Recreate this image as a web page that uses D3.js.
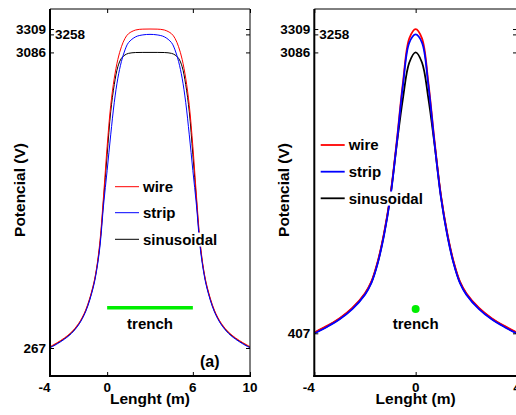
<!DOCTYPE html>
<html><head><meta charset="utf-8">
<script src="https://cdn.jsdelivr.net/npm/d3@7"></script>
<style>
html,body{margin:0;padding:0;background:#fff;}
svg text{font-family:Arial,"Liberation Sans",sans-serif;font-weight:bold;fill:#000;}
</style></head>
<body><svg id="c" width="516" height="415"></svg>
<script>
// ---- data ----
const seriesNames = ["wire", "strip", "sinusoidal"];
const seriesColors = ["#ff0000", "#0000ff", "#000000"];

// panel (a): trench 0..6 m
const leftX = [-4,-3.5,-3,-2.5,-2,-1.5,-1,-0.75,-0.5,-0.25,0,0.25,0.5,0.75,1,1.25,1.5,2,2.5,3,
               3.5,4,4.5,4.75,5,5.25,5.5,5.75,6,6.25,6.5,6.75,7,7.5,8,8.5,9,9.5,10];
const leftWire = [280,318,362,418,500,630,850,1020,1290,1720,2190,2580,2840,3020,3140,3220,3265,3300,3308,3309,
                  3308,3300,3265,3220,3140,3020,2840,2580,2190,1720,1290,1020,850,630,500,418,362,318,280];
const leftStrip = [268,306,350,405,487,615,830,995,1240,1630,1960,2300,2610,2840,3000,3110,3180,3235,3253,3258,
                   3253,3235,3180,3110,3000,2840,2610,2300,1960,1630,1240,995,830,615,487,405,350,306,268];
const leftSinus = [274,312,356,411,493,622,840,1008,1265,1680,2110,2520,2780,2950,3030,3062,3077,3085,3086,3086,
                   3086,3085,3077,3062,3030,2950,2780,2520,2110,1680,1265,1008,840,622,493,411,356,312,274];
const leftXTicks = [-4, 0, 6, 10];
const leftYTicks = [267, 3086, 3258, 3309];
const leftYTickLabels = ["267", "3086", "", "3309"];

// panel (b): point trench at 0 m
const rightX = [-4,-3.5,-3,-2.5,-2,-1.75,-1.5,-1.25,-1,-0.75,-0.5,-0.25,0,
                0.25,0.5,0.75,1,1.25,1.5,1.75,2,2.5,3,3.5,4];
const rightWire = [415,478,552,650,790,900,1090,1360,1720,2230,2800,3220,3309,
                   3220,2800,2230,1720,1360,1090,900,790,650,552,478,415];
const rightStrip = [405,468,541,638,776,885,1072,1340,1700,2210,2775,3180,3258,
                    3180,2775,2210,1700,1340,1072,885,776,638,541,468,405];
const rightSinus = [410,473,546,644,783,892,1080,1350,1710,2200,2650,2990,3086,
                    2990,2650,2200,1710,1350,1080,892,783,644,546,473,410];
const rightXTicks = [-4, 0, 4];
const rightYTicks = [407, 3086, 3258, 3309];
const rightYTickLabels = ["407", "3086", "", "3309"];

const peakNote = "3258";
const yLabel = "Potencial (V)";
const xLabel = "Lenght (m)";
const trenchLabel = "trench";

// ---- drawing ----
const svg = d3.select("#c");

function panel(opt) {
  const x = d3.scaleLinear().domain(opt.xDomain).range(opt.xRange);
  const y = d3.scaleLinear().domain([0, 3500]).range([376, 9]);
  const g = svg.append("g");
  const clipId = "clip" + opt.id;
  svg.append("clipPath").attr("id", clipId).append("rect")
    .attr("x", opt.xRange[0]).attr("y", 9).attr("width", opt.xRange[1] - opt.xRange[0]).attr("height", 367);
  const plot = g.append("g").attr("clip-path", `url(#${clipId})`);

  // trench marker
  if (opt.trenchLine) {
    plot.append("line").attr("x1", x(opt.trenchLine[0])).attr("x2", x(opt.trenchLine[1]))
      .attr("y1", y(opt.trenchY)).attr("y2", y(opt.trenchY))
      .attr("stroke", "#00ee00").attr("stroke-width", 3.5);
  } else {
    plot.append("circle").attr("cx", x(opt.trenchPoint)).attr("cy", y(opt.trenchY)).attr("r", 4)
      .attr("fill", "#00ee00");
  }
  g.append("text").attr("x", x(opt.trenchTextX)).attr("y", 329).attr("text-anchor", "middle")
    .attr("font-size", 15).text(trenchLabel);

  const line = d3.line().x((d, i) => x(opt.xs[i])).y(d => y(d)).curve(d3.curveCatmullRom.alpha(0.5));
  // draw order: sinusoidal, wire, strip
  [2, 0, 1].forEach(k => {
    plot.append("path").datum(opt.ys[k]).attr("d", line).attr("fill", "none")
      .attr("stroke", seriesColors[k]).attr("stroke-width", opt.lw);
  });

  // axes
  const xAxisB = d3.axisBottom(x).tickValues(opt.xTicks).tickSize(-4).tickFormat("");
  const xAxisT = d3.axisTop(x).tickValues(opt.xTicks).tickSize(-4).tickFormat("");
  const yAxisL = d3.axisLeft(y).tickValues(opt.yTicks).tickSize(-4).tickFormat("");
  const yAxisR = d3.axisRight(y).tickValues(opt.yTicks).tickSize(-4).tickFormat("");
  const axes = [
    g.append("g").attr("transform", "translate(0,376)").call(xAxisB),
    g.append("g").attr("transform", "translate(0,9)").call(xAxisT),
    g.append("g").attr("transform", `translate(${opt.xRange[0]},0)`).call(yAxisL),
    g.append("g").attr("transform", `translate(${opt.xRange[1]},0)`).call(yAxisR)
  ];
  axes.forEach(a => {
    a.select(".domain").attr("stroke", "#000").attr("stroke-width", 2);
    a.selectAll(".tick line").attr("stroke", "#000").attr("stroke-width", 1);
  });
  axes[0].select(".domain").attr("d", `M${opt.xRange[0] - 1},0H${opt.xRange[1] + 1}`);
  axes[1].select(".domain").attr("d", `M${opt.xRange[0]},0H${opt.xRange[1]}`).attr("stroke-width", 1);
  axes[2].select(".domain").attr("d", `M0,9V377`);
  axes[3].select(".domain").attr("d", `M0,9V376`).attr("stroke-width", 1);

  // tick labels
  opt.xTicks.forEach(t => {
    g.append("text").attr("x", x(t) + (t < 0 ? 0.5 : 0)).attr("y", 392)
      .attr("text-anchor", t < 0 ? "end" : "middle").attr("font-size", 13.5).text(t);
  });
  opt.yTicks.forEach((t, i) => {
    if (!opt.yLabels[i]) return;
    g.append("text").attr("x", opt.xRange[0] - 4).attr("y", y(t)).attr("dy", "0.35em")
      .attr("text-anchor", "end").attr("font-size", 13.5).text(opt.yLabels[i]);
  });
  g.append("text").attr("x", opt.xRange[0] + 5).attr("y", 34).attr("dy", "0.35em")
    .attr("font-size", 13.5).text(peakNote);

  // axis titles
  g.append("text").attr("x", x(opt.xLabelAt)).attr("y", 404).attr("text-anchor", "middle")
    .attr("font-size", 15.5).text(xLabel);
  g.append("text").attr("transform", `translate(${opt.yLabelX},190) rotate(-90)`)
    .attr("text-anchor", "middle").attr("font-size", 15.5).text(yLabel);

  // legend
  seriesNames.forEach((n, k) => {
    const ly = opt.legY[k];
    g.append("line").attr("x1", opt.legX).attr("x2", opt.legX + 24).attr("y1", ly).attr("y2", ly)
      .attr("stroke", seriesColors[k]).attr("stroke-width", opt.lw);
    const t = g.append("text").attr("x", opt.legX + 28).attr("y", ly).attr("dy", "0.35em")
      .attr("font-size", 15).text(n);
    const bb = t.node().getBBox();
    g.insert("rect", function () { return t.node(); })
      .attr("x", bb.x).attr("y", bb.y + 2).attr("width", bb.width).attr("height", bb.height - 3)
      .attr("fill", "#fff");
  });

  if (opt.note) {
    g.append("text").attr("x", opt.note[0]).attr("y", opt.note[1]).attr("font-size", 16).text("(a)");
  }
}

panel({
  id: "L", xDomain: [-4, 10], xRange: [50, 250], xs: leftX, ys: [leftWire, leftStrip, leftSinus],
  xTicks: leftXTicks, yTicks: leftYTicks, yLabels: leftYTickLabels, lw: 1,
  trenchLine: [0, 6], trenchY: 650, trenchTextX: 3, xLabelAt: 3, yLabelX: 25,
  legX: 115, legY: [186.7, 212.7, 239.3], note: [200, 367]
});
panel({
  id: "R", xDomain: [-4, 4], xRange: [314.3, 517], xs: rightX, ys: [rightWire, rightStrip, rightSinus],
  xTicks: rightXTicks, yTicks: rightYTicks, yLabels: rightYTickLabels, lw: 1.8,
  trenchPoint: 0, trenchY: 640, trenchTextX: 0, xLabelAt: 0, yLabelX: 289,
  legX: 320.7, legY: [145, 171.7, 198.3]
});
</script></body></html>
